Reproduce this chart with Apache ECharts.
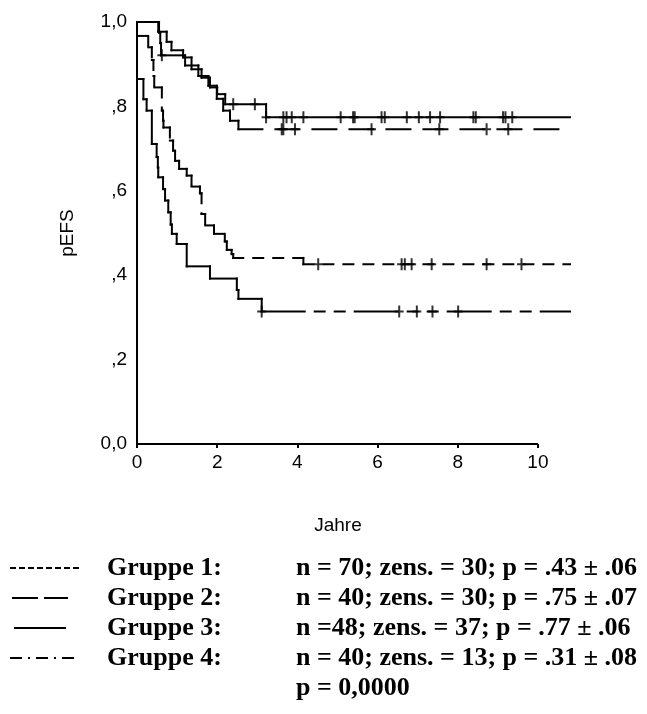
<!DOCTYPE html>
<html>
<head>
<meta charset="utf-8">
<script src="https://cdn.jsdelivr.net/npm/echarts@6/dist/echarts.min.js"></script>
<style>
  html, body { margin: 0; padding: 0; background: #fff; }
  #chart { width: 647px; height: 714px; }
</style>
</head>
<body>
<div id="chart"></div>
<script>
// Kaplan-Meier estimates of event-free survival (pEFS) by group, time in years.
// Each times[i] is when the estimate changes to surv[i].
const xTicks = [0, 2, 4, 6, 8, 10];
const yTickLabels = ['0,0', ',2', ',4', ',6', ',8', '1,0'];
const followUpEnd = 10.8;

// Gruppe 1
const g1Times = [0, 0.28, 0.37, 0.41, 0.43, 0.62, 0.65, 0.66, 0.82, 0.90, 0.95, 1.05, 1.24, 1.36, 1.57, 1.61, 1.70, 1.92, 2.19, 2.24, 2.36, 2.40, 4.15];
const g1Surv  = [0.967, 0.94, 0.91, 0.872, 0.845, 0.79, 0.766, 0.75, 0.719, 0.695, 0.671, 0.652, 0.636, 0.61, 0.594, 0.545, 0.518, 0.498, 0.48, 0.46, 0.45, 0.441, 0.426];
const g1Cens  = [4.52, 6.60, 6.68, 6.85, 7.35, 8.72, 9.59];

// Gruppe 2
const g2Times = [0, 0.55, 0.58, 0.60, 1.20, 1.53, 1.78, 1.99, 2.15, 2.32, 2.53];
const g2Surv  = [1.0, 0.975, 0.95, 0.921, 0.897, 0.872, 0.849, 0.818, 0.79, 0.766, 0.746];
const g2Cens  = [0.62, 3.61, 3.65, 3.94, 5.85, 7.54, 8.72, 9.26];

// Gruppe 3
const g3Times = [0, 0.53, 0.74, 0.86, 1.15, 1.36, 1.61, 1.82, 2.00, 2.20, 3.22];
const g3Surv  = [1.0, 0.977, 0.953, 0.933, 0.916, 0.888, 0.868, 0.845, 0.829, 0.805, 0.774];
const g3Cens  = [2.40, 2.94, 3.22, 3.65, 3.73, 3.86, 4.15, 5.08, 5.39, 5.43, 6.10, 6.18, 6.73, 7.03, 7.31, 7.56, 8.39, 8.45, 9.13, 9.19, 9.36];

// Gruppe 4
const g4Times = [0, 0.16, 0.24, 0.37, 0.49, 0.52, 0.53, 0.65, 0.70, 0.78, 0.84, 0.87, 0.99, 1.24, 1.82, 2.49, 2.53, 3.11];
const g4Surv  = [0.865, 0.817, 0.79, 0.711, 0.68, 0.655, 0.632, 0.604, 0.577, 0.549, 0.52, 0.498, 0.474, 0.421, 0.392, 0.365, 0.344, 0.314];
const g4Cens  = [3.11, 6.54, 6.98, 7.37, 8.01];

// Legend rows
const legendNames = ['Gruppe 1:', 'Gruppe 2:', 'Gruppe 3:', 'Gruppe 4:'];
const legendStats = [
  'n = 70; zens. = 30; p = .43 \u00b1 .06',
  'n = 40; zens. = 30; p = .75 \u00b1 .07',
  'n =48; zens. = 37; p = .77 \u00b1 .06',
  'n = 40; zens. = 13; p = .31 \u00b1 .08'
];
const overallTest = 'p = 0,0000';

const BLACK = '#000';
const AXIS_FONT = '"Liberation Sans", Arial, sans-serif';
const AXIS_SIZE = 19;
const LEGEND_FONT = 'bold 26px "Liberation Serif", "Times New Roman", serif';
const PLUS = 'path://M3.5,0h2v12h-2zM0,5h9v2h-9z';

function stepPoints(times, surv) {
  const pts = times.map((t, i) => [t, surv[i]]);
  pts.push([followUpEnd, surv[surv.length - 1]]);
  return pts;
}
function survAt(times, surv, t) {
  let s = surv[0];
  for (let i = 0; i < times.length; i++) if (times[i] <= t) s = surv[i];
  return s;
}
// Step curve drawn segment by segment, so every horizontal run and every drop
// starts its own dash pattern (short pieces come out solid).
function curve(name, times, surv, dash) {
  const pts = stepPoints(times, surv);
  return {
    name, type: 'custom', silent: true,
    data: pts,
    encode: { x: 0, y: 1 },
    renderItem: (params, api) => {
      const i = params.dataIndex;
      if (i >= pts.length - 1) return null;
      const a = api.coord([pts[i][0], pts[i][1]]);
      const b = api.coord([pts[i + 1][0], pts[i][1]]);
      const c = api.coord([pts[i + 1][0], pts[i + 1][1]]);
      const style = { stroke: BLACK, fill: null, lineWidth: 2, lineDash: dash, lineCap: 'square' };
      const children = [{ type: 'line', shape: { x1: a[0], y1: a[1], x2: b[0], y2: b[1] }, style }];
      if (Math.abs(c[1] - b[1]) > 0.5) {
        children.push({ type: 'line', shape: { x1: b[0], y1: b[1], x2: c[0], y2: c[1] }, style });
      }
      return { type: 'group', children };
    }
  };
}
function censored(name, times, surv, cens) {
  return {
    name: name + ' zensiert', type: 'scatter', silent: true,
    data: cens.map(t => [t, survAt(times, surv, t)]),
    symbol: PLUS, symbolSize: [9, 12],
    itemStyle: { color: BLACK }
  };
}

// Legend line samples drawn beside each row
const rowY = [568, 598, 628, 658, 688];
function seg(x1, x2, y) {
  return { type: 'line', shape: { x1, y1: y, x2, y2: y }, style: { stroke: BLACK, lineWidth: 2 } };
}
const legendGraphics = [];
for (let x = 10; x < 80; x += 9) legendGraphics.push(seg(x, x + 6, rowY[0]));      // short dashes
legendGraphics.push(seg(12, 38, rowY[1]), seg(44, 68, rowY[1]));                    // long dashes
legendGraphics.push(seg(14, 66, rowY[2]));                                          // solid
legendGraphics.push(seg(10, 22, rowY[3]), seg(28, 30, rowY[3]), seg(36, 48, rowY[3]),
                    seg(54, 56, rowY[3]), seg(62, 74, rowY[3]));                    // dash-dot
function legendText(text, x, y) {
  return { type: 'text', x, y,
    style: { text, font: LEGEND_FONT, fill: BLACK, align: 'left', verticalAlign: 'middle', textAlign: 'left', textVerticalAlign: 'middle' } };
}
legendNames.forEach((t, i) => legendGraphics.push(legendText(t, 107, rowY[i])));
legendStats.forEach((t, i) => legendGraphics.push(legendText(t, 296, rowY[i])));
legendGraphics.push(legendText(overallTest, 296, rowY[4]));

const chart = echarts.init(document.getElementById('chart'), null, { renderer: 'canvas' });
chart.setOption({
  animation: false,
  backgroundColor: '#fff',
  // the time axis runs past its last labelled tick so the curves can continue to the end of follow-up
  grid: { left: 137, right: 77, top: 22, bottom: 270, containLabel: false },
  xAxis: {
    type: 'value', min: 0, max: followUpEnd, interval: 2,
    axisLine: { show: false },
    axisTick: { show: true, length: 4, inside: false, customValues: xTicks, lineStyle: { color: BLACK, width: 2 } },
    axisLabel: {
      color: BLACK, fontSize: AXIS_SIZE, fontFamily: AXIS_FONT, margin: 9, customValues: xTicks,
      formatter: v => (xTicks.indexOf(v) >= 0 ? String(v) : '')
    },
    splitLine: { show: false }
  },
  yAxis: {
    type: 'value', min: 0, max: 1, interval: 0.2,
    axisLine: { show: true, lineStyle: { color: BLACK, width: 2 } },
    axisTick: { show: false },
    axisLabel: {
      color: BLACK, fontSize: AXIS_SIZE, fontFamily: AXIS_FONT, margin: 10,
      formatter: v => yTickLabels[Math.round(v * 5)]
    },
    splitLine: { show: false }
  },
  graphic: [
    { type: 'text', x: 68, y: 233, rotation: Math.PI / 2,
      style: { text: 'pEFS', font: AXIS_SIZE + 'px ' + AXIS_FONT, fill: BLACK, align: 'center', verticalAlign: 'middle', textAlign: 'center', textVerticalAlign: 'middle' } },
    { type: 'text', x: 338, y: 526,
      style: { text: 'Jahre', font: AXIS_SIZE + 'px ' + AXIS_FONT, fill: BLACK, align: 'center', verticalAlign: 'middle', textAlign: 'center', textVerticalAlign: 'middle' } },
    ...legendGraphics
  ],
  series: [
    curve('Gruppe 1', g1Times, g1Surv, [10, 10]),
    curve('Gruppe 2', g2Times, g2Surv, [24, 13]),
    curve('Gruppe 3', g3Times, g3Surv, null),
    curve('Gruppe 4', g4Times, g4Surv, [43, 10, 10, 10, 10, 10]),
    Object.assign(censored('Gruppe 1', g1Times, g1Surv, g1Cens), {
      // x axis baseline, drawn only over the labelled range 0..10
      markLine: {
        silent: true, symbol: 'none', label: { show: false },
        lineStyle: { color: BLACK, width: 2, type: 'solid' },
        data: [[{ coord: [xTicks[0], 0] }, { coord: [xTicks[xTicks.length - 1], 0] }]]
      }
    }),
    censored('Gruppe 2', g2Times, g2Surv, g2Cens),
    censored('Gruppe 3', g3Times, g3Surv, g3Cens),
    censored('Gruppe 4', g4Times, g4Surv, g4Cens)
  ]
});
</script>
</body>
</html>
